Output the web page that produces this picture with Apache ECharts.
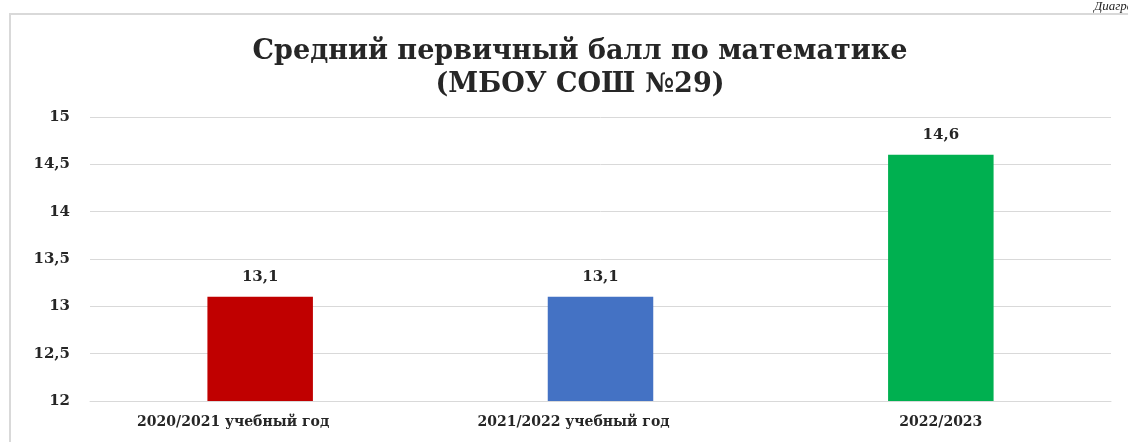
<!DOCTYPE html>
<html><head><meta charset="utf-8">
<script src="https://cdn.jsdelivr.net/npm/echarts@6/dist/echarts.min.js"></script>
<style>html,body{margin:0;padding:0;background:#fff}#c{width:1128px;height:442px}</style>
</head><body><div id="c"></div>
<script>
const categories = ['2020/2021 учебный год', '2021/2022 учебный год', '2022/2023'];
const values = [13.1, 13.1, 14.6];
const barColors = ['#C00000', '#4472C4', '#00B050'];
const titleLines = ['Средний первичный балл по математике', '(МБОУ СОШ №29)'];
const yMin = 12, yMax = 15, yStep = 0.5;
const fmt = v => String(v).replace('.', ',');
const serif = 'DejaVu Serif';

const chart = echarts.init(document.getElementById('c'));
chart.setOption({
  animation: false,
  title: {
    text: titleLines.join('\n'),
    left: 575, top: 30, textAlign: 'center',
    textStyle: { fontFamily: serif, fontWeight: 'bold', fontSize: 27, color: '#262626', lineHeight: 33 }
  },
  graphic: [
    { type: 'rect', shape: { x: 10, y: 14, width: 1140, height: 440 }, style: { fill: 'none', stroke: '#d9d9d9', lineWidth: 2 }, z: -1 },
    { type: 'text', left: 1094, top: 0, style: { text: 'Диаграмма', font: 'italic 13px "Liberation Serif"', fill: '#222' } }
  ],
  grid: { left: 90, right: 17, top: 117, bottom: 41, containLabel: false },
  xAxis: {
    type: 'category', data: categories,
    axisLine: { show: true, lineStyle: { color: '#d9d9d9' } },
    axisTick: { show: false },
    axisLabel: {
      fontFamily: serif, fontWeight: 'bold', fontSize: 14, color: '#262626', margin: 14,
      formatter: v => v.length > 12 ? '{w|' + v + '}' : v,
      rich: { w: { fontFamily: serif, fontWeight: 'bold', fontSize: 14, color: '#262626', padding: [0, 54, 0, 0] } }
    }
  },
  yAxis: {
    type: 'value', min: yMin, max: yMax, interval: yStep,
    axisLine: { show: false }, axisTick: { show: false },
    splitLine: { lineStyle: { color: '#d9d9d9' } },
    axisLabel: { fontFamily: serif, fontWeight: 'bold', fontSize: 15, color: '#262626', margin: 20, formatter: v => fmt(v) }
  },
  series: [{
    type: 'bar', barWidth: '31%',
    data: values.map((v, i) => ({ value: v, itemStyle: { color: barColors[i] } })),
    label: { show: true, position: 'top', distance: 12, fontFamily: serif, fontWeight: 'bold', fontSize: 15, color: '#262626', formatter: p => fmt(p.value) }
  }]
});
</script></body></html>
